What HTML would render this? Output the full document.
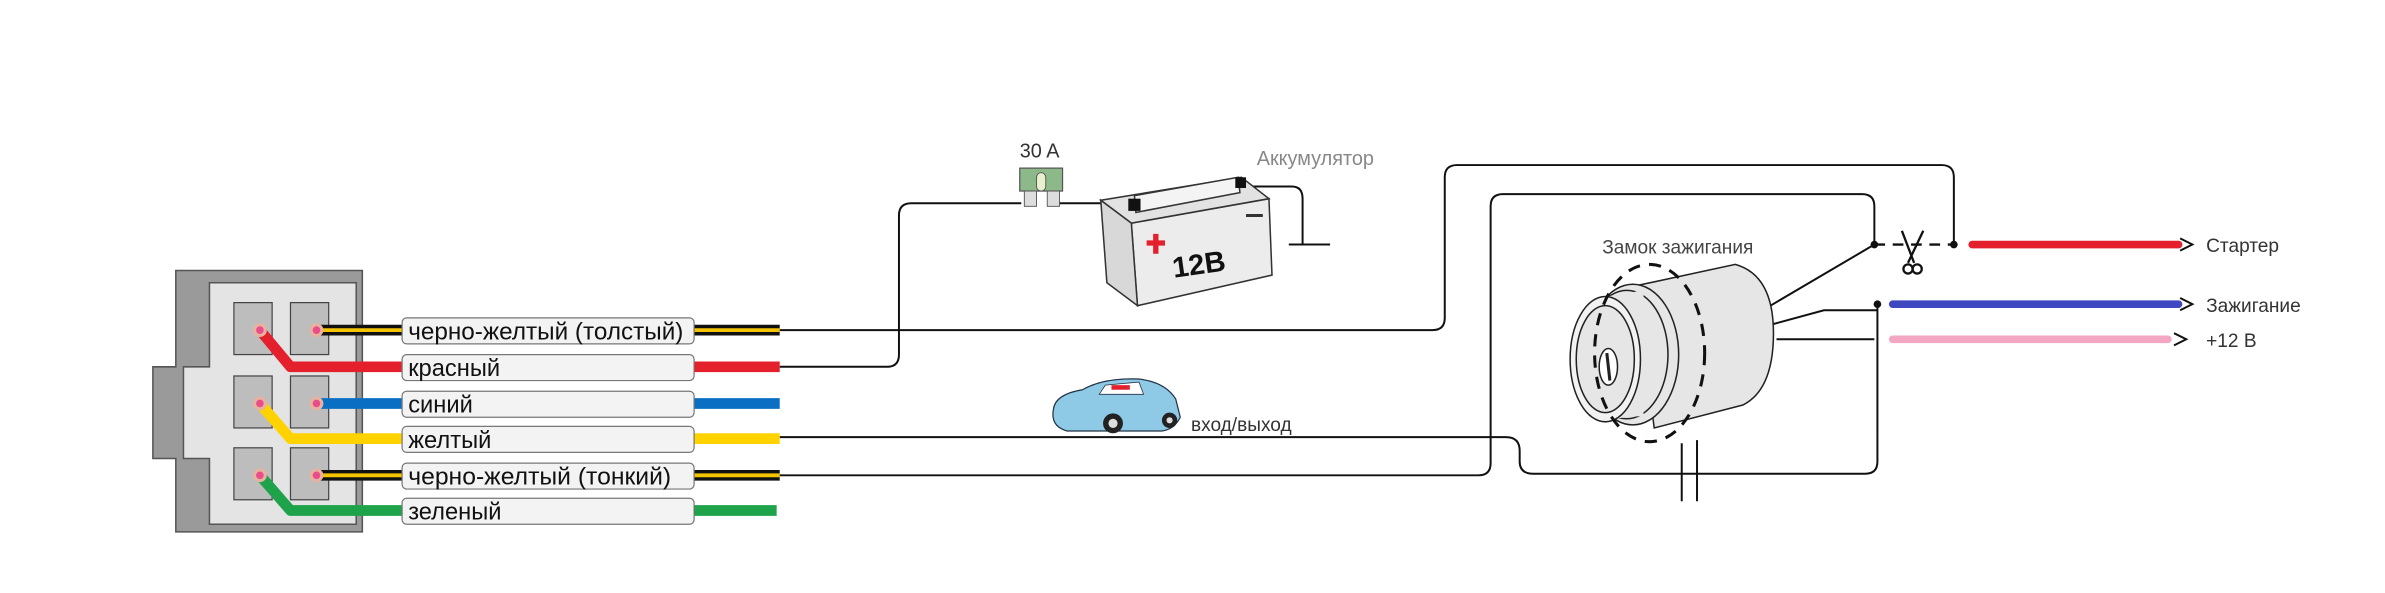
<!DOCTYPE html>
<html><head><meta charset="utf-8"><style>
html,body{margin:0;padding:0;background:#fff;}
svg{display:block;}
text{font-family:"Liberation Sans","DejaVu Sans",sans-serif;}
</style></head><body>
<svg width="2385" height="593" viewBox="0 0 1560 388" preserveAspectRatio="none" xmlns="http://www.w3.org/2000/svg">
<rect width="1560" height="388" fill="#fff"/>
<g fill="none" stroke="#111" stroke-width="1.3">
<path d="M510 216 H937 Q945 216 945 208 V116 Q945 108 953 108 H1270 Q1278 108 1278 116 V160"/>
<path d="M510 240 H580 Q588 240 588 232 V141 Q588 133 596 133 H668"/>
<path d="M688 133 H738"/>
<path d="M812 122 H845 Q852 122 852 130 V160 M843 160 H870"/>
<path d="M510 286 H985 Q994 286 994 295 V302 Q994 310 1003 310 H1220 Q1228 310 1228 302 V199"/>
<path d="M510 311 H967 Q975 311 975 303 V135 Q975 127 983 127 H1218 Q1226 127 1226 135 V160"/>
<path d="M1226 160 L1158 200"/>
<path d="M1160 212 L1193 203 H1228"/>
<path d="M1162 222 H1226"/>
<path d="M1100 290 V328 M1110 288 V328"/>
<path d="M1226 160 H1278" stroke-dasharray="7,5" stroke-width="1.6"/>
</g>
<circle cx="1226" cy="160" r="2.5" fill="#111"/>
<circle cx="1278" cy="160" r="2.5" fill="#111"/>
<circle cx="1228" cy="199" r="2.5" fill="#111"/>
<g stroke="#111" stroke-width="1.5" fill="none">
<path d="M1244 151 L1252 172 M1258 151 L1248 172"/>
<circle cx="1248" cy="176" r="3"/><circle cx="1254" cy="176" r="3"/>
</g>
<g stroke-linecap="round">
<line x1="1290" y1="160" x2="1425" y2="160" stroke="#e3202b" stroke-width="5"/>
<line x1="1238" y1="199" x2="1425" y2="199" stroke="#3f48c0" stroke-width="5"/>
<line x1="1238" y1="222" x2="1418" y2="222" stroke="#f4a7c2" stroke-width="5"/>
</g>
<g fill="none" stroke="#111" stroke-width="1.3">
<path d="M1426 156 L1434 160 L1426 164 M1426 195 L1434 199 L1426 203 M1422 218 L1430 222 L1422 226"/>
</g>
<g font-size="12.5" fill="#333">
<text x="1443" y="165">Стартер</text>
<text x="1443" y="204">Зажигание</text>
<text x="1443" y="227">+12 В</text>
<text x="1048" y="166" fill="#444">Замок зажигания</text>
<text x="779" y="282">вход/выход</text>
<text x="667" y="103" font-size="13">30 A</text>
<text x="822" y="108" font-size="13" fill="#888">Аккумулятор</text>
</g>
<g stroke="#222" stroke-width="1" fill="#e6e6e6">
<path d="M1070 187 L1135 173 Q1160 180 1160 218 Q1160 255 1140 265 L1082 280 Z"/>
<ellipse cx="1068" cy="232" rx="30" ry="46"/>
<ellipse cx="1064" cy="232" rx="27" ry="42" fill="none"/>
<path d="M1045 195 L1075 190 L1075 272 L1045 275 Z" stroke="none"/>
<ellipse cx="1050" cy="235" rx="23" ry="41" fill="#f2f2f2"/>
<ellipse cx="1050" cy="235" rx="19" ry="35" fill="#e6e6e6"/>
<ellipse cx="1052" cy="240" rx="6" ry="12" fill="#fff"/>
<line x1="1051" y1="231" x2="1053" y2="249" stroke-width="2"/>
</g>
<ellipse cx="1079" cy="231" rx="36" ry="58" fill="none" stroke="#111" stroke-width="2" stroke-dasharray="8,6"/>
<g stroke="#333" stroke-width="1" fill="#ececec">
<path d="M740 146 L830 130 L832 180 L744 200 Z"/>
<path d="M720 131 L812 116 L830 130 L740 146 Z" fill="#e2e2e2"/>
<path d="M742 128 L810 116 L811 126 L743 139 Z" fill="#f4f4f4"/>
<path d="M720 131 L740 146 L744 200 L724 185 Z" fill="#d8d8d8"/>
</g>
<rect x="738" y="130" width="8" height="8" fill="#111"/>
<rect x="808" y="116" width="7" height="7" fill="#111"/>
<path d="M750 159 H762 M756 153 V166" stroke="#e3202b" stroke-width="3.5"/>
<path d="M815 141 H826" stroke="#333" stroke-width="2"/>
<text x="767" y="180" font-size="19" font-weight="bold" fill="#111" transform="rotate(-8 780 175)">12B</text>
<rect x="667" y="110" width="28" height="15" fill="#8db88a" stroke="#555" stroke-width="0.8"/>
<rect x="678" y="113" width="6" height="12" rx="3" fill="#e8f0d0" stroke="#555" stroke-width="0.6"/>
<rect x="670" y="125" width="8" height="10" fill="#ddd" stroke="#555" stroke-width="0.6"/>
<rect x="685" y="125" width="8" height="10" fill="#ddd" stroke="#555" stroke-width="0.6"/>
<g>
<path d="M689 268 Q690 258 708 255 Q722 247 745 248 Q762 250 769 261 L772 273 Q768 281 760 282 L698 282 Q687 279 689 268 Z" fill="#8ec9e6" stroke="#234" stroke-width="0.8"/>
<path d="M723 252 L745 250 L748 258 L719 258 Z" fill="#fff" stroke="#234" stroke-width="0.5"/>
<rect x="727" y="252" width="12" height="3" fill="#e3202b"/>
<circle cx="728" cy="277" r="6.5" fill="#222"/><circle cx="728" cy="277" r="3" fill="#ddd"/>
<circle cx="765" cy="275" r="5" fill="#222"/><circle cx="765" cy="275" r="2" fill="#ddd"/>
</g>
<path d="M115 177 H237 V348 H115 V300 H100 V240 H115 Z" fill="#9a9a9a" stroke="#555" stroke-width="1"/>
<path d="M137 185 H233 V343 H137 V300 H120 V240 H137 Z" fill="#e4e4e4" stroke="#555" stroke-width="1"/>
<g fill="#bdbdbd" stroke="#444" stroke-width="0.8">
<rect x="153" y="198" width="25" height="34"/><rect x="190" y="198" width="25" height="34"/>
<rect x="153" y="246" width="25" height="34"/><rect x="190" y="246" width="25" height="34"/>
<rect x="153" y="293" width="25" height="34"/><rect x="190" y="293" width="25" height="34"/>
</g>
<g fill="none" stroke-width="7" stroke-linejoin="round">
<path d="M207 216 H510" stroke="#111"/>
<path d="M207 216 H510" stroke="#f5c400" stroke-width="2.5"/>
<path d="M170 216 L190 240 H510" stroke="#e3202b"/>
<path d="M207 264 H510" stroke="#0a6fc2"/>
<path d="M170 264 L190 287 H510" stroke="#ffd200"/>
<path d="M207 311 H510" stroke="#111"/>
<path d="M207 311 H510" stroke="#f5c400" stroke-width="2.5"/>
<path d="M170 311 L190 334 H508" stroke="#1ea24a"/>
</g>
<g fill="#e94e8a" stroke="#e8b2a0" stroke-width="2">
<circle cx="170" cy="216" r="3.5"/><circle cx="207" cy="216" r="3.5"/>
<circle cx="170" cy="264" r="3.5"/><circle cx="207" cy="264" r="3.5"/>
<circle cx="170" cy="311" r="3.5"/><circle cx="207" cy="311" r="3.5"/>
</g>
<g fill="#f3f3f3" stroke="#777" stroke-width="0.8">
<rect x="263" y="208" width="191" height="17" rx="3"/>
<rect x="263" y="232" width="191" height="17" rx="3"/>
<rect x="263" y="256" width="191" height="17" rx="3"/>
<rect x="263" y="279" width="191" height="17" rx="3"/>
<rect x="263" y="303" width="191" height="17" rx="3"/>
<rect x="263" y="326" width="191" height="17" rx="3"/>
</g>
<g font-size="15.5" fill="#111">
<text x="267" y="222" textLength="180" lengthAdjust="spacingAndGlyphs">черно-желтый (толстый)</text>
<text x="267" y="246">красный</text>
<text x="267" y="270">синий</text>
<text x="267" y="293">желтый</text>
<text x="267" y="317" textLength="172" lengthAdjust="spacingAndGlyphs">черно-желтый (тонкий)</text>
<text x="267" y="340">зеленый</text>
</g>
</svg>
</body></html>
